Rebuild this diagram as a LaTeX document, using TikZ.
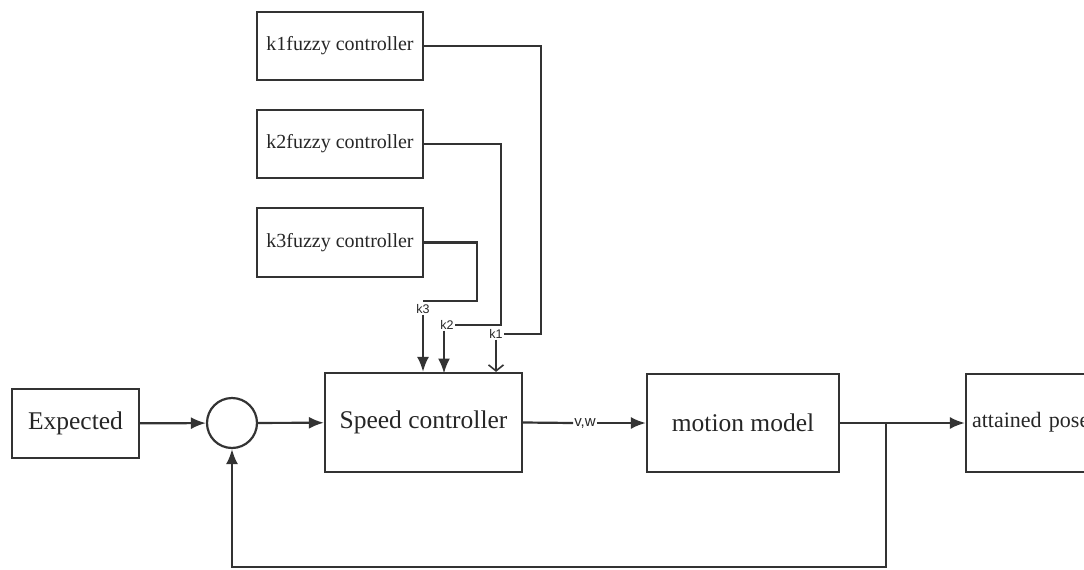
\documentclass[tikz,border=0pt]{standalone}
\usepackage{fontspec}
\setmainfont{Liberation Serif}
\newfontfamily\labfont{Liberation Sans}
\usetikzlibrary{arrows.meta}
\colorlet{myline}{black!80}

\tikzset{
  block/.style ={draw=myline, line width=2.2pt, rectangle, text=black!85,
    font=\fontsize{25.5}{28}\selectfont},
  fuzzy/.style ={block, minimum width=166pt, minimum height=68pt,
    font=\fontsize{20}{22}\selectfont},
  klabel/.style ={inner sep=1pt, text=black!85, font=\labfont\fontsize{12.5}{13}\selectfont},
  wire/.style ={draw=myline, line width=2.2pt},
  arr/.style ={wire, -{Latex[length=15pt,width=12pt]}},
  barb/.style ={wire, -{Straight Barb[length=6pt,width=15pt,line width=1.6pt]}}
}

\begin{document}
\begin{tikzpicture}[x=1pt, y=-1pt]
\useasboundingbox (0,0) rectangle (1084,570);
\clip (0,0) rectangle (1084,570);
% fuzzy gain tuners
\node[fuzzy] (k1) at (340,46) {k1fuzzy controller};
\node[fuzzy] (k2) at (340,144) {k2fuzzy controller};
\node[fuzzy, minimum height=69pt] (k3) at (340,242.5) {k3fuzzy controller};
% main loop
\node[block, minimum width=127pt, minimum height=69pt] (exp) at (75.5,423.5) {Expected};
\node[draw=myline, line width=2.2pt, circle, minimum size=50pt, inner sep=0] (sum) at (232,423) {};
\node[block, minimum width=197pt, minimum height=99pt] (spd) at (423.5,422.5) {Speed controller};
\node[klabel, font=\labfont\fontsize{15}{16}\selectfont] (vw) at (585,423) {v,w};
\node[block, minimum width=192pt, minimum height=98pt] (mot) at (743,423) {motion model};
\node[block, minimum width=194pt, minimum height=98pt, text width=182pt, align=left,
  font=\fontsize{22}{24}\selectfont] (pose) at (1063,423) {\raisebox{6pt}{attained pose}};
% gain labels
\node[klabel] (k1lab) at (496,334) {k1};
\node[klabel] (k2lab) at (447,325) {k2};
\node[klabel] (k3lab) at (423,309) {k3};
\coordinate (k1c) at (541,334);
\coordinate (k2c) at (501,325);
\coordinate (k3c) at (477,301);
\coordinate (br) at (886,423);
\coordinate (fb) at (886,567);

\draw[wire] (k1.east) -| (k1c) -- (k1lab.east);
\draw[wire] (k2.east) -| (k2c) -- (k2lab.east);
\draw[wire] (k3.east) -| (k3c) -- (k3lab.north |- k3c);
\draw[barb] (k1lab.south) -- (k1lab.south |- spd.north);
\draw[arr] (k2lab.south) ++(-3,0) -- (444,373.5);
\draw[arr] (k3lab.south) -- (k3lab.south |- spd.north);

\draw[arr] (exp) -- (sum);
\draw[arr] (sum) -- (spd);
\draw[wire] (spd.east) -- (vw.west);
\draw[arr] (vw.east) -- (mot.west);
\draw[wire] (mot.east) -- (br);
\draw[arr] (br) -- (pose.west);
\draw[arr] (br) -- (fb) -| (sum.south);
\end{tikzpicture}
\end{document}
